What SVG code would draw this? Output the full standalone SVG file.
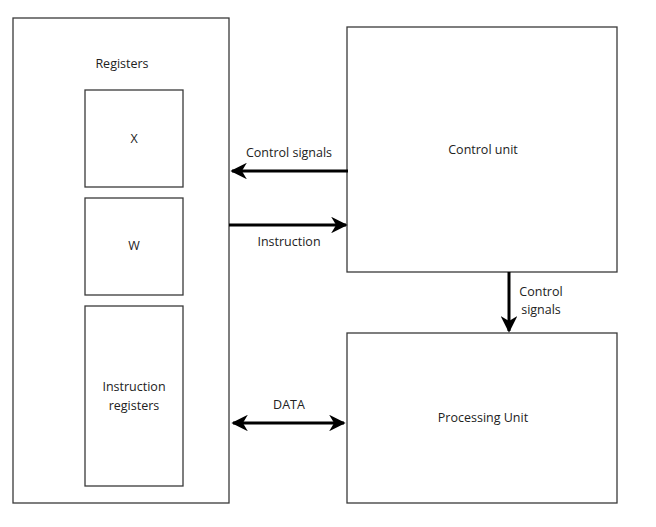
<svg xmlns="http://www.w3.org/2000/svg" width="656" height="527" viewBox="0 0 656 527">
<defs>
<style>
.box{fill:#fff;stroke:#3a3a3a;stroke-width:1.3}
.t{font-family:"Open Sans","Liberation Sans",sans-serif;font-size:12.5px;fill:#222;text-anchor:middle}
.c{stroke:#000;stroke-width:3;fill:none}
</style>
<marker id="ah" viewBox="0 0 10 10" refX="9" refY="5" markerWidth="5.5" markerHeight="5.5" orient="auto-start-reverse" markerUnits="strokeWidth">
<path d="M0,0 L10,5 L0,10 L3,5 Z" fill="#000"/>
</marker>
</defs>
<rect width="656" height="527" fill="#fff"/>
<g id="registers">
<rect class="box" x="13" y="18" width="216" height="485"/>
<text class="t" x="122" y="68">Registers</text>
</g>
<g id="reg-x">
<rect class="box" x="85" y="90" width="98" height="97"/>
<text class="t" x="134" y="143">X</text>
</g>
<g id="reg-w">
<rect class="box" x="85" y="198" width="98" height="97"/>
<text class="t" x="134" y="250">W</text>
</g>
<g id="reg-ir">
<rect class="box" x="85" y="306" width="98" height="180"/>
<text class="t" x="134" y="391">Instruction</text>
<text class="t" x="134" y="410">registers</text>
</g>
<g id="control-unit">
<rect class="box" x="347" y="27" width="270" height="245"/>
<text class="t" x="483" y="154">Control unit</text>
</g>
<g id="processing-unit">
<rect class="box" x="347" y="333" width="270" height="170"/>
<text class="t" x="483" y="422">Processing Unit</text>
</g>
<g id="connectors">
<line class="c" x1="348" y1="171" x2="232" y2="171" marker-end="url(#ah)"/>
<text class="t" x="289" y="157">Control signals</text>
<line class="c" x1="229" y1="225" x2="346" y2="225" marker-end="url(#ah)"/>
<text class="t" x="289" y="246">Instruction</text>
<line class="c" x1="233" y1="423" x2="344" y2="423" marker-start="url(#ah)" marker-end="url(#ah)"/>
<text class="t" x="289" y="409">DATA</text>
<line class="c" x1="509" y1="272" x2="509" y2="331" marker-end="url(#ah)"/>
<text class="t" x="541" y="296">Control</text>
<text class="t" x="541" y="314">signals</text>
</g>
</svg>
